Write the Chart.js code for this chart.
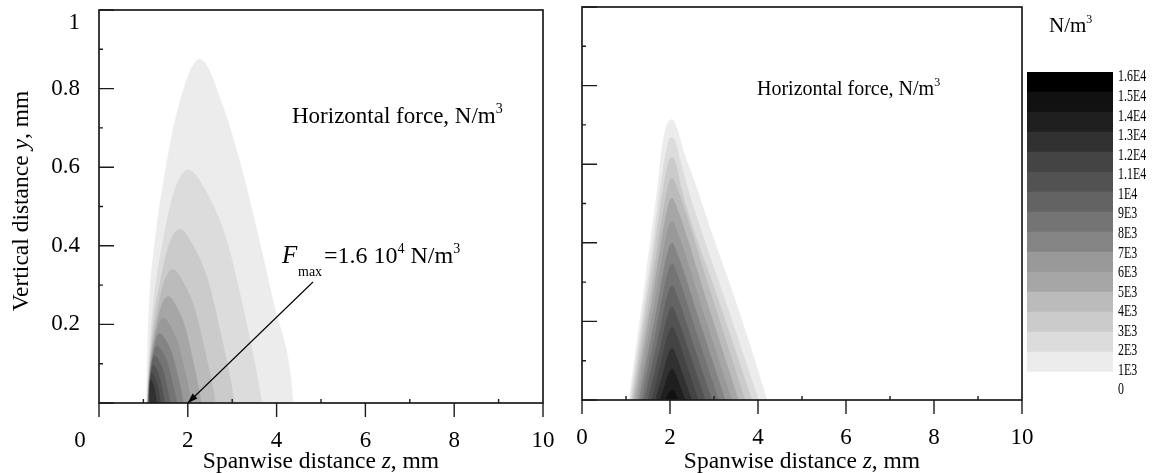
<!DOCTYPE html>
<html>
<head>
<meta charset="utf-8">
<script src="https://cdn.jsdelivr.net/npm/chart.js@4.4.0/dist/chart.umd.min.js"></script>
<style>
  html, body { margin: 0; padding: 0; background: #fff; }
  #wrap { position: relative; width: 1168px; height: 473px; overflow: hidden; }
  canvas { position: absolute; top: 0; }
</style>
</head>
<body>
<div id="wrap">
  <canvas id="leftChart" width="560" height="473" style="left:0"></canvas>
  <canvas id="rightChart" width="490" height="473" style="left:560px"></canvas>
  <canvas id="scaleChart" width="142" height="473" style="left:1026px"></canvas>
</div>
<script>
const SERIF = "'Liberation Serif', 'Times New Roman', serif";
Chart.defaults.font.family = SERIF;
Chart.defaults.color = '#000';

// grey of each force level, from 1E3 up to 1.5E4
const levelShades = ['#ececec', '#dcdcdc', '#cbcbcb', '#bbbbbb', '#a6a6a6', '#999999', '#848484', '#747474',
  '#636363', '#525252', '#444444', '#313131', '#1f1f1f', '#111111', '#000000'];

// level outlines as [z mm, y mm], outermost (weakest) level first
const leftContours = [
  [[1.07, 0], [1.082, 0.079], [1.13, 0.245], [1.262, 0.411], [1.49, 0.586], [1.79, 0.753], [2.27, 0.875], [2.795, 0.753], [3.236, 0.586], [3.614, 0.411], [3.95, 0.245], [4.307, 0.076], [4.37, 0]],
  [[1.08, 0], [1.11, 0.076], [1.22, 0.244], [1.45, 0.415], [1.70, 0.54], [2.01, 0.593], [2.40, 0.54], [2.87, 0.415], [3.24, 0.244], [3.55, 0.076], [3.67, 0]],
  [[1.09, 0], [1.113, 0.057], [1.20, 0.181], [1.382, 0.309], [1.577, 0.402], [1.82, 0.442], [2.109, 0.402], [2.46, 0.309], [2.73, 0.181], [2.964, 0.057], [3.05, 0]],
  [[1.10, 0], [1.118, 0.044], [1.184, 0.139], [1.324, 0.238], [1.474, 0.309], [1.66, 0.34], [1.886, 0.309], [2.159, 0.238], [2.37, 0.139], [2.553, 0.044], [2.62, 0]],
  [[1.10, 0], [1.115, 0.035], [1.169, 0.111], [1.284, 0.19], [1.407, 0.247], [1.56, 0.271], [1.734, 0.247], [1.945, 0.19], [2.108, 0.111], [2.248, 0.035], [2.30, 0]],
  [[1.11, 0], [1.121, 0.028], [1.161, 0.089], [1.246, 0.151], [1.337, 0.197], [1.45, 0.216], [1.598, 0.197], [1.778, 0.151], [1.916, 0.089], [2.036, 0.028], [2.08, 0]],
  [[1.11, 0], [1.118, 0.023], [1.149, 0.073], [1.214, 0.124], [1.283, 0.161], [1.37, 0.177], [1.495, 0.161], [1.646, 0.124], [1.762, 0.073], [1.863, 0.023], [1.90, 0]],
  [[1.12, 0], [1.126, 0.019], [1.148, 0.059], [1.196, 0.102], [1.247, 0.132], [1.31, 0.145], [1.413, 0.132], [1.539, 0.102], [1.636, 0.059], [1.719, 0.019], [1.75, 0]],
  [[1.12, 0], [1.124, 0.015], [1.141, 0.049], [1.176, 0.084], [1.213, 0.109], [1.26, 0.12], [1.34, 0.109], [1.437, 0.084], [1.512, 0.049], [1.576, 0.015], [1.60, 0]],
  [[1.13, 0], [1.143, 0.04], [1.166, 0.068], [1.19, 0.088], [1.22, 0.097], [1.281, 0.088], [1.355, 0.068], [1.412, 0.04], [1.462, 0.012], [1.48, 0]],
  [[1.13, 0], [1.139, 0.031], [1.154, 0.053], [1.17, 0.069], [1.19, 0.076], [1.237, 0.069], [1.294, 0.053], [1.338, 0.031], [1.376, 0.01], [1.39, 0]],
  [[1.14, 0], [1.148, 0.04], [1.17, 0.058], [1.20, 0.053], [1.238, 0.041], [1.266, 0.024], [1.30, 0]]
];

const rightContours = [
  [[1.07, 0], [1.17, 0.085], [1.38, 0.254], [1.58, 0.424], [1.73, 0.551], [1.81, 0.635], [1.90, 0.69], [2.04, 0.714], [2.16, 0.69], [2.30, 0.635], [2.57, 0.551], [2.95, 0.424], [3.48, 0.254], [3.97, 0.085], [4.20, 0]],
  [[1.10, 0], [1.53, 0.33], [1.96, 0.655], [2.05, 0.668], [2.14, 0.65], [2.25, 0.60], [2.45, 0.52], [3.23, 0.26], [4.01, 0]],
  [[1.13, 0], [1.54, 0.302], [1.96, 0.602], [2.05, 0.617], [2.14, 0.597], [2.25, 0.54], [3.05, 0.27], [3.86, 0]],
  [[1.16, 0], [1.565, 0.275], [1.97, 0.549], [2.05, 0.564], [2.14, 0.544], [2.92, 0.272], [3.70, 0]],
  [[1.20, 0], [1.585, 0.249], [1.97, 0.498], [2.05, 0.513], [2.14, 0.493], [2.845, 0.246], [3.55, 0]],
  [[1.25, 0], [1.61, 0.22], [1.97, 0.44], [2.05, 0.455], [2.14, 0.435], [2.77, 0.217], [3.40, 0]],
  [[1.30, 0], [1.635, 0.192], [1.97, 0.384], [2.05, 0.399], [2.14, 0.379], [2.695, 0.19], [3.25, 0]],
  [[1.36, 0], [1.665, 0.165], [1.97, 0.331], [2.05, 0.346], [2.14, 0.326], [2.62, 0.163], [3.10, 0]],
  [[1.42, 0], [1.695, 0.137], [1.97, 0.275], [2.05, 0.29], [2.14, 0.27], [2.545, 0.135], [2.95, 0]],
  [[1.50, 0], [1.735, 0.11], [1.97, 0.221], [2.05, 0.236], [2.14, 0.216], [2.47, 0.108], [2.80, 0]],
  [[1.58, 0], [1.775, 0.085], [1.97, 0.171], [2.05, 0.186], [2.14, 0.166], [2.39, 0.083], [2.64, 0]],
  [[1.67, 0], [1.82, 0.058], [1.97, 0.117], [2.05, 0.132], [2.14, 0.112], [2.315, 0.056], [2.49, 0]],
  [[1.77, 0], [1.87, 0.032], [1.97, 0.066], [2.05, 0.079], [2.14, 0.062], [2.24, 0.031], [2.34, 0]],
  [[1.90, 0], [1.97, 0.016], [2.05, 0.025], [2.12, 0.016], [2.18, 0]]
];

// colour key: band limits and their printed labels
const legendBounds = [0, 1000, 2000, 3000, 4000, 5000, 6000, 7000, 8000, 9000, 10000, 11000, 12000, 13000, 14000, 15000, 16000];
const legendLabels = ['0', '1E3', '2E3', '3E3', '4E3', '5E3', '6E3', '7E3', '8E3', '9E3', '1E4', '1.1E4', '1.2E4', '1.3E4', '1.4E4', '1.5E4', '1.6E4'];
const legendShades = ['#ffffff'].concat(levelShades);

function drawRich(ctx, parts, x, y, align) {
  const fontOf = p => (p.italic ? 'italic ' : '') + p.size + 'px ' + SERIF;
  let width = 0;
  parts.forEach(p => { ctx.font = fontOf(p); width += ctx.measureText(p.text).width; });
  let cx = align === 'center' ? x - width / 2 : x;
  ctx.textAlign = 'left';
  ctx.textBaseline = 'alphabetic';
  parts.forEach(p => {
    ctx.font = fontOf(p);
    ctx.fillText(p.text, cx, y - (p.rise || 0));
    cx += ctx.measureText(p.text).width;
  });
}

function contourSets(contours) {
  return contours.map((pts, i) => ({
    data: pts.map(p => ({ x: p[0], y: p[1] })),
    backgroundColor: levelShades[i],
    borderColor: levelShades[i],
    borderWidth: 0.6,
    pointRadius: 0,
    fill: 'origin',
    cubicInterpolationMode: 'monotone',
    order: contours.length - i   // weakest level painted first
  }));
}

// keep the plot box where the layout padding puts it, labels may overhang
function fixBox(size, key) {
  return s => {
    s[key] = size;
    s.paddingTop = s.paddingBottom = s.paddingLeft = s.paddingRight = 0;
  };
}

// box round the plot, long ticks hang under z, short ones point inward
const panelFrame = {
  id: 'panelFrame',
  afterDraw(chart) {
    const { ctx, chartArea: a, scales: { x, y } } = chart;
    ctx.save();
    ctx.strokeStyle = '#1c1c1c';
    ctx.lineWidth = 1.7;
    ctx.strokeRect(a.left, a.top, a.right - a.left, a.bottom - a.top);
    ctx.lineWidth = 1.4;
    ctx.beginPath();
    x.ticks.forEach((t, i) => {
      const px = x.getPixelForValue(t.value);
      ctx.moveTo(px, a.bottom); ctx.lineTo(px, a.bottom + 14);
      const next = x.ticks[i + 1];
      if (next) {
        const m = x.getPixelForValue((t.value + next.value) / 2);
        ctx.moveTo(m, a.bottom); ctx.lineTo(m, a.bottom - 4);
      }
    });
    y.ticks.forEach((t, i) => {
      const py = y.getPixelForValue(t.value);
      ctx.moveTo(a.left, py); ctx.lineTo(a.left + 15, py);
      const next = y.ticks[i + 1];
      if (next) {
        const m = y.getPixelForValue((t.value + next.value) / 2);
        ctx.moveTo(a.left, m); ctx.lineTo(a.left + 4, m);
      }
    });
    ctx.stroke();
    ctx.restore();
  }
};

function axisTitles(chart, withY) {
  const { ctx, chartArea: a } = chart;
  ctx.fillStyle = '#000';
  drawRich(ctx, [
    { text: 'Spanwise distance ', size: 23.5 },
    { text: 'z', size: 23.5, italic: true },
    { text: ', mm', size: 23.5 }
  ], (a.left + a.right) / 2, 468, 'center');
  if (withY) {
    ctx.save();
    ctx.translate(28, 201);
    ctx.rotate(-Math.PI / 2);
    drawRich(ctx, [
      { text: 'Vertical distance ', size: 23.5 },
      { text: 'y', size: 23.5, italic: true },
      { text: ', mm', size: 23.5 }
    ], 0, 0, 'center');
    ctx.restore();
  }
}

const leftNotes = {
  id: 'leftNotes',
  afterDraw(chart) {
    const { ctx, scales: { x, y } } = chart;
    ctx.save();
    axisTitles(chart, true);
    // corner labels sit off their ticks
    ctx.fillStyle = '#000';
    ctx.font = '23px ' + SERIF;
    ctx.textAlign = 'center'; ctx.textBaseline = 'middle';
    ctx.fillText('0', 80, 441);
    ctx.textAlign = 'right';
    ctx.fillText('1', 80, 23);

    drawRich(ctx, [
      { text: 'Horizontal force, N/m', size: 23 },
      { text: '3', size: 14, rise: 10 }
    ], 292, 123, 'left');

    drawRich(ctx, [{ text: 'F', size: 25, italic: true }], 282, 263, 'left');
    drawRich(ctx, [{ text: 'max', size: 14 }], 298, 276, 'left');
    drawRich(ctx, [
      { text: '=1.6 10', size: 24 },
      { text: '4', size: 14, rise: 10 },
      { text: ' N/m', size: 24 },
      { text: '3', size: 14, rise: 10 }
    ], 324, 263, 'left');

    // arrow to the force maximum at z = 2, y = 0
    const tx = x.getPixelForValue(2), ty = y.getPixelForValue(0);
    const sx = 313, sy = 282;
    const ang = Math.atan2(ty - sy, tx - sx);
    ctx.strokeStyle = '#000'; ctx.lineWidth = 1.1;
    ctx.beginPath(); ctx.moveTo(sx, sy); ctx.lineTo(tx, ty); ctx.stroke();
    ctx.beginPath();
    ctx.moveTo(tx, ty);
    ctx.lineTo(tx - 10 * Math.cos(ang) + 3.5 * Math.sin(ang), ty - 10 * Math.sin(ang) - 3.5 * Math.cos(ang));
    ctx.lineTo(tx - 10 * Math.cos(ang) - 3.5 * Math.sin(ang), ty - 10 * Math.sin(ang) + 3.5 * Math.cos(ang));
    ctx.closePath(); ctx.fillStyle = '#000'; ctx.fill();
    ctx.restore();
  }
};

const rightNotes = {
  id: 'rightNotes',
  afterDraw(chart) {
    const { ctx } = chart;
    ctx.save();
    axisTitles(chart, false);
    drawRich(ctx, [
      { text: 'Horizontal force, N/m', size: 20 },
      { text: '3', size: 12, rise: 9 }
    ], 197, 95, 'left');
    ctx.restore();
  }
};

const tickFont = { family: SERIF, size: 23 };

function panelConfig(contours, padding, yWidth, xHeight, opts) {
  return {
    type: 'line',
    data: { datasets: contourSets(contours) },
    options: {
      responsive: false,
      animation: false,
      events: [],
      layout: { padding: padding },
      plugins: { legend: { display: false }, tooltip: { enabled: false } },
      scales: {
        x: {
          type: 'linear', min: 0, max: 10,
          grid: { display: false, drawTicks: false },
          border: { display: false },
          ticks: { stepSize: 2, font: tickFont, color: '#000', padding: 24, maxRotation: 0, autoSkip: false, callback: opts.xLabel },
          afterFit: fixBox(xHeight, 'height')
        },
        y: {
          type: 'linear', min: 0, max: 1,
          grid: { display: false, drawTicks: false },
          border: { display: false },
          ticks: { stepSize: 0.2, display: opts.yLabels, font: tickFont, color: '#000', padding: 19,
                   callback: v => (v > 0.01 && v < 0.99) ? v.toFixed(1) : '' },
          afterFit: fixBox(yWidth, 'width')
        }
      }
    },
    plugins: [panelFrame, opts.notes]
  };
}

new Chart(document.getElementById('leftChart'), panelConfig(leftContours,
  { left: 0, top: 10, right: 17, bottom: 0 }, 99, 70,
  { yLabels: true, notes: leftNotes, xLabel: v => (v === 0 ? '' : v) }));

new Chart(document.getElementById('rightChart'), panelConfig(rightContours,
  { left: 0, top: 7, right: 28, bottom: 0 }, 22, 73,
  { yLabels: false, notes: rightNotes, xLabel: v => v }));

// unit above the key and narrow labels beside its bands
const keyText = {
  id: 'keyText',
  afterDraw(chart) {
    const { ctx, chartArea: a, scales: { v } } = chart;
    ctx.save();
    ctx.fillStyle = '#000';
    drawRich(ctx, [
      { text: 'N/m', size: 21 },
      { text: '3', size: 12, rise: 9 }
    ], 23, 32, 'left');
    ctx.font = '17px ' + SERIF;
    ctx.textAlign = 'left';
    ctx.textBaseline = 'middle';
    legendBounds.forEach((b, i) => {
      ctx.save();
      ctx.translate(a.right + 5, v.getPixelForValue(b));
      ctx.scale(0.7, 1);
      ctx.fillText(legendLabels[i], 0, 0);
      ctx.restore();
    });
    ctx.restore();
  }
};

new Chart(document.getElementById('scaleChart'), {
  type: 'bar',
  data: {
    labels: [''],
    datasets: legendShades.map((c, i) => ({
      data: [[legendBounds[i], legendBounds[i + 1]]],
      backgroundColor: c,
      borderWidth: 0,
      barPercentage: 1,
      categoryPercentage: 1,
      grouped: false,
      yAxisID: 'y'
    }))
  },
  options: {
    responsive: false,
    animation: false,
    events: [],
    layout: { padding: { left: 1, top: 72, right: 0, bottom: 81 } },
    plugins: { legend: { display: false }, tooltip: { enabled: false } },
    scales: {
      x: { display: false },
      y: { display: false, min: 0, max: 16000 },
      v: {
        axis: 'y', position: 'right', min: -102, max: 16256,
        grid: { display: false, drawTicks: false },
        border: { display: false },
        ticks: { display: false },
        afterFit: fixBox(55, 'width')
      }
    }
  },
  plugins: [keyText]
});
</script>
</body>
</html>
